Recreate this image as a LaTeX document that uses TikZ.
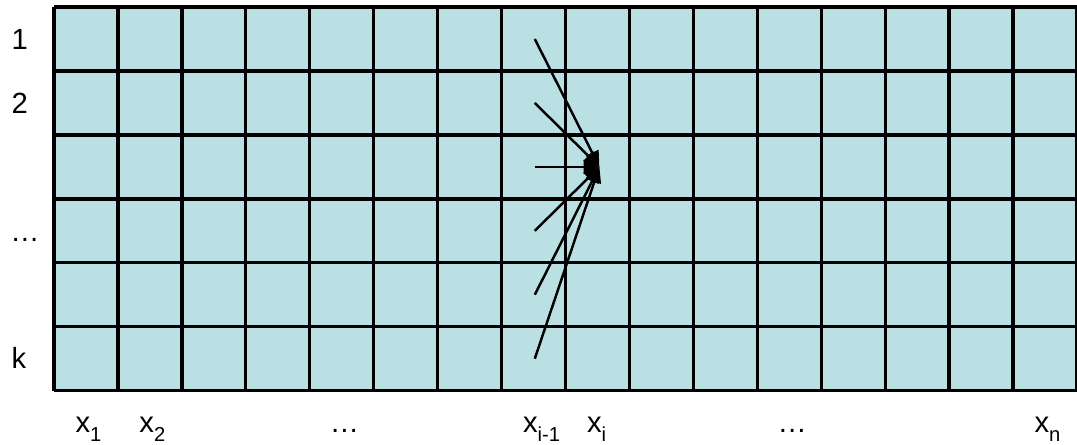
\documentclass[tikz,border=0pt]{standalone}
\usepackage{fontspec}
\setmainfont{Liberation Sans}
\usetikzlibrary{arrows.meta}
\definecolor{cellfill}{RGB}{187,224,227}
\newcommand{\lowidx}[1]{\raisebox{-4.2pt}{\fontsize{9}{10}\selectfont #1}}

\begin{document}
\begin{tikzpicture}[
    every node/.style={font=\fontsize{13}{15}\selectfont, inner sep=0pt, anchor=base west},
    gridline/.style={line width=1.5pt},
    link/.style={-{Triangle[length=7pt,width=6pt]}, line width=1.1pt},
  ]
  \useasboundingbox (-0.844,-0.844) rectangle (16,6.11);
  % Cells
  \fill[cellfill] (0,0) rectangle (16,6);
  \draw[gridline] (0,0) grid (16,6);
  % Row labels
  \node (r1) at (-0.67,5.34) {1};
  \node (r2) at (-0.67,4.34) {2};
  \node (r4) at (-0.69,2.34) {…};
  \node (rk) at (-0.67,0.34) {k};
  % Column labels
  \node (x1)  at (0.33,-0.65)  {x\lowidx{1}};
  \node (x2)  at (1.33,-0.65)  {x\lowidx{2}};
  \node (xd1) at (4.31,-0.65)  {…};
  \node (xim) at (7.33,-0.65)  {x\lowidx{i-1}};
  \node (xi)  at (8.33,-0.65)  {x\lowidx{i}};
  \node (xd2) at (11.31,-0.65) {…};
  \node (xn)  at (15.33,-0.65) {x\lowidx{n}};
  % Links from column i-1 into one cell of column i
  \coordinate (t) at (8.53,3.5);
  \foreach \r in {1,...,6} {
    \coordinate (s\r) at (7.52,6.5-\r);
    \draw[link] (s\r) -- (t);
  }
\end{tikzpicture}
\end{document}
